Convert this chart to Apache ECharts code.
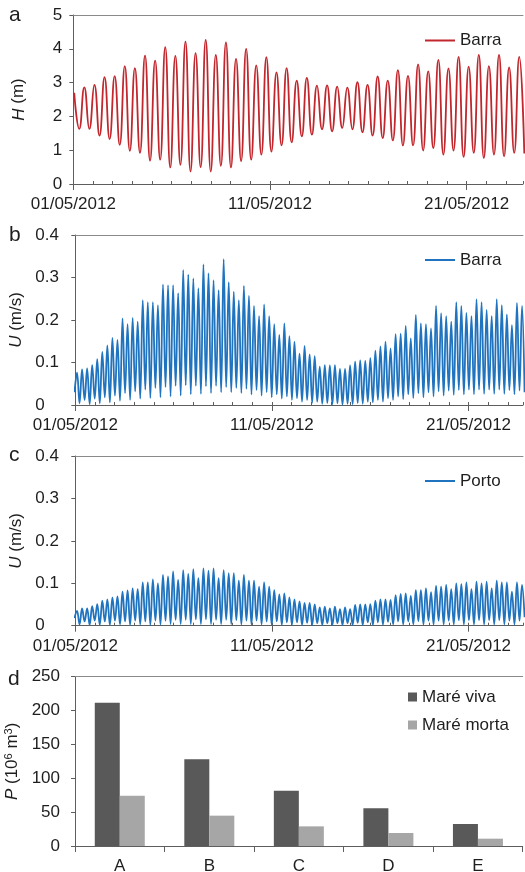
<!DOCTYPE html>
<html><head><meta charset="utf-8">
<script src="https://cdn.jsdelivr.net/npm/echarts@6/dist/echarts.min.js"></script>
<style>html,body{margin:0;padding:0;background:#fff}#c{width:525px;height:872px}</style>
</head><body><div id="c"></div>
<script>
// ---------- data ----------
const dateLabels = ['01/05/2012', '11/05/2012', '21/05/2012'];

// Panel a: water level H (m) at Barra - successive high and low waters
const hHigh = [2.7, 2.86, 2.93, 3.16, 3.19, 3.49, 3.43, 3.8, 3.65, 4.05,
  3.79, 4.21, 3.87, 4.26, 3.82, 4.19, 3.7, 4.0, 3.51, 3.75,
  3.30, 3.43, 3.06, 3.14, 2.91, 2.92, 2.88, 2.85, 3.01, 2.93,
  3.18, 3.06, 3.37, 3.2, 3.54, 3.33, 3.67, 3.42, 3.76, 3.47,
  3.82, 3.49, 3.82, 3.45, 3.76];
const hLow = [1.63, 1.63, 1.43, 1.33, 1.16, 0.98, 0.92, 0.69, 0.72, 0.49,
  0.57, 0.37, 0.5, 0.37, 0.54, 0.49, 0.68, 0.72, 0.87, 0.96,
  1.14, 1.23, 1.41, 1.46, 1.62, 1.56, 1.66, 1.62, 1.53, 1.43,
  1.36, 1.29, 1.14, 1.14, 0.99, 1.06, 0.87, 0.99, 0.80, 0.92,
  0.77, 0.87, 0.82, 0.92, 0.9];

// Panel b: current speed U (m/s) at Barra - maxima and minima
const uBarraPeak = [0.076, 0.084, 0.086, 0.094, 0.108, 0.125, 0.14, 0.158, 0.153, 0.204,
  0.19, 0.205, 0.196, 0.247, 0.242, 0.242, 0.235, 0.284, 0.282, 0.282,
  0.263, 0.318, 0.307, 0.298, 0.275, 0.331, 0.31, 0.294, 0.27,
  0.343, 0.289, 0.267, 0.247, 0.28, 0.257, 0.233, 0.209, 0.237, 0.209,
  0.19, 0.165, 0.192, 0.162, 0.149, 0.121, 0.139, 0.119, 0.115, 0.09,
  0.094, 0.093, 0.094, 0.085, 0.085, 0.093, 0.102, 0.105, 0.104, 0.11,
  0.128, 0.138, 0.149, 0.133, 0.167, 0.168, 0.186, 0.157, 0.212, 0.192,
  0.19, 0.18, 0.233, 0.216, 0.209, 0.196, 0.242, 0.233, 0.217, 0.209,
  0.249, 0.242, 0.224, 0.209, 0.249, 0.235, 0.213, 0.188, 0.24, 0.233];
const uBarraLow = [0.03, 0.004, 0.012, 0.002, 0.015, 0.004, 0.018, 0.006, 0.022, 0.01,
  0.028, 0.012, 0.032, 0.015, 0.036, 0.016, 0.04, 0.018, 0.042, 0.02,
  0.045, 0.022, 0.046, 0.025, 0.045, 0.026, 0.044, 0.028, 0.045, 0.03,
  0.042, 0.03, 0.04, 0.028, 0.038, 0.025, 0.035, 0.022, 0.03, 0.018,
  0.025, 0.015, 0.02, 0.012, 0.016, 0.008, 0.012, 0.005, 0.008, 0.003,
  0.005, 0.002, 0.004, 0.001, 0.003, 0.002, 0.005, 0.003, 0.008, 0.006,
  0.012, 0.008, 0.016, 0.012, 0.02, 0.014, 0.025, 0.016, 0.028, 0.018,
  0.03, 0.02, 0.032, 0.022, 0.034, 0.024, 0.035, 0.025, 0.036, 0.025,
  0.036, 0.026, 0.036, 0.026, 0.036, 0.026, 0.035, 0.025, 0.034, 0.03];

// Panel c: current speed U (m/s) at Porto - maxima and minima
const uPortoPeak = [0.035, 0.041, 0.041, 0.046, 0.051, 0.059, 0.062, 0.067, 0.069, 0.08,
  0.083, 0.088, 0.086, 0.102, 0.102, 0.109, 0.1, 0.12, 0.116, 0.128,
  0.108, 0.131, 0.122, 0.133, 0.112, 0.135, 0.13, 0.135, 0.112, 0.131,
  0.124, 0.124, 0.106, 0.12, 0.106, 0.106, 0.092, 0.102, 0.092, 0.084,
  0.074, 0.076, 0.067, 0.062,
  0.057, 0.054, 0.054, 0.05, 0.043, 0.045, 0.041, 0.045, 0.039, 0.043,
  0.039, 0.049, 0.05, 0.05, 0.051, 0.059, 0.062, 0.062, 0.061, 0.072,
  0.075, 0.076, 0.07, 0.084, 0.084, 0.088, 0.079, 0.094, 0.092, 0.096,
  0.086, 0.1, 0.098, 0.102, 0.086, 0.104, 0.1, 0.104, 0.088, 0.106,
  0.102, 0.102, 0.08, 0.102, 0.096];
const uPortoLow = [0.018, 0.003, 0.01, 0.002, 0.012, 0.002, 0.01, 0.002, 0.012, 0.003,
  0.01, 0.002, 0.012, 0.003, 0.01, 0.002, 0.012, 0.003, 0.012, 0.004,
  0.014, 0.004, 0.014, 0.004, 0.015, 0.004, 0.015, 0.004, 0.014, 0.004,
  0.014, 0.004, 0.013, 0.003, 0.012, 0.003, 0.012, 0.003, 0.01, 0.002,
  0.01, 0.002, 0.008, 0.002, 0.008, 0.002, 0.007, 0.002, 0.006, 0.002,
  0.006, 0.002, 0.006, 0.002, 0.006, 0.002, 0.007, 0.002, 0.008, 0.002,
  0.008, 0.003, 0.009, 0.003, 0.01, 0.003, 0.01, 0.003, 0.011, 0.003,
  0.012, 0.003, 0.012, 0.003, 0.012, 0.003, 0.013, 0.003, 0.013, 0.003,
  0.013, 0.003, 0.013, 0.003, 0.013, 0.003, 0.012, 0.003, 0.012, 0.02];

// Panel d: tidal prism P (10^6 m3)
const prismCategories = ['A', 'B', 'C', 'D', 'E'];
const mareViva = [211.6, 128, 81.7, 55.6, 32.5];
const mareMorta = [74.3, 44.8, 29, 19.2, 10.8];

// timing of the extrema (days after 01/05/2012 00:00)
const hStartDay = 0.046, uStartDay = 0.087, halfCycleDays = 0.2572;

// ---------- build series ----------
function buildH() {
  const out = [];
  for (let i = 0; i < hHigh.length; i++) {
    out.push([hStartDay + 2 * i * halfCycleDays, hHigh[i]]);
    if (i < hLow.length) out.push([hStartDay + (2 * i + 1) * halfCycleDays, hLow[i]]);
  }
  return out;
}
function buildU(peaks, lows) {
  const out = [];
  for (let k = 0; k < lows.length; k++) {
    out.push([uStartDay + (k - 0.5) * halfCycleDays, lows[k]]);
    if (k < peaks.length) out.push([uStartDay + k * halfCycleDays, peaks[k]]);
  }
  return out;
}

const FONT = 'Liberation Sans, Arial, Helvetica, sans-serif';
const TXT = '#1e1e1e';
const AX = '#5e5e5e';
const TOPC = '#8a8a8a';
const FS = 17;

function dateFmt(v) {
  const i = Math.round(v / 10);
  if (Math.abs(v - i * 10) < 1e-6 && i >= 0 && i < dateLabels.length) return dateLabels[i];
  return '';
}

const grids = [
  { left: 73.3, top: 15, width: 449.7, height: 169 },
  { left: 75.3, top: 235, width: 447.7, height: 170 },
  { left: 75.3, top: 456, width: 447.7, height: 169.7 },
  { left: 75, top: 676.7, width: 447.7, height: 169.3 }
].map(g => Object.assign({ outerBoundsMode: 'none', containLabel: false }, g));

const xMax = [22.87, 22.77, 22.77];
const xAxes = [];
const xMain = [];
for (let g = 0; g < 3; g++) {
  xMain.push(xAxes.length);
  xAxes.push({
    type: 'value', gridIndex: g, position: 'bottom', min: 0, max: xMax[g], interval: 10,
    axisLine: { show: true, onZero: false, lineStyle: { color: AX, width: 1 } },
    axisTick: { show: true, inside: false, length: 6, lineStyle: { color: AX } },
    axisLabel: { show: true, formatter: dateFmt, margin: 12, color: TXT, fontSize: FS, fontFamily: FONT, showMaxLabel: false },
    splitLine: { show: false }
  });
  xAxes.push({
    type: 'value', gridIndex: g, position: 'bottom', min: 0, max: xMax[g], interval: 1,
    axisLine: { show: false, onZero: false },
    axisTick: { show: true, inside: true, length: 3, lineStyle: { color: AX } },
    axisLabel: { show: false }, splitLine: { show: false }
  });
  xAxes.push({
    type: 'value', gridIndex: g, position: 'top', min: 0, max: xMax[g],
    axisLine: { show: true, onZero: false, lineStyle: { color: TOPC, width: 1 } },
    axisTick: { show: false }, axisLabel: { show: false }, splitLine: { show: false }
  });
}
const xCat = xAxes.length;
xAxes.push({
  type: 'category', gridIndex: 3, position: 'bottom', data: prismCategories,
  axisLine: { show: true, onZero: false, lineStyle: { color: AX } },
  axisTick: { show: true, length: 6, lineStyle: { color: AX } },
  axisLabel: { margin: 12, color: TXT, fontSize: FS, fontFamily: FONT },
  splitLine: { show: false }
});
xAxes.push({
  type: 'category', gridIndex: 3, position: 'top', data: prismCategories,
  axisLine: { show: true, onZero: false, lineStyle: { color: TOPC } },
  axisTick: { show: false }, axisLabel: { show: false }, splitLine: { show: false }
});

function yAx(g, max, interval, nameRich, labelOpts) {
  return Object.assign({
    type: 'value', gridIndex: g, min: 0, max: max, interval: interval,
    axisLine: { show: true, lineStyle: { color: AX, width: 1 } },
    axisTick: { show: true, length: 4, lineStyle: { color: AX } },
    splitLine: { show: false },
    name: nameRich, nameLocation: 'middle', nameGap: 46, nameRotate: 90,
    nameTextStyle: {
      color: TXT, fontSize: FS, fontFamily: FONT,
      rich: {
        i: { fontStyle: 'italic', fontSize: FS, fontFamily: FONT, color: TXT },
        sup: { fontSize: 11, fontFamily: FONT, color: TXT, verticalAlign: 'top', lineHeight: 12 }
      }
    }
  }, labelOpts);
}
const yAxes = [
  yAx(0, 5, 1, '{i|H} (m)', { axisLabel: { margin: 11, color: TXT, fontSize: FS, fontFamily: FONT } }),
  yAx(1, 0.4, 0.1, '{i|U} (m/s)', { axisLabel: { margin: 40, align: 'left', color: TXT, fontSize: FS, fontFamily: FONT, formatter: v => v === 0 ? '0' : v.toFixed(1) } }),
  yAx(2, 0.4, 0.1, '{i|U} (m/s)', { axisLabel: { margin: 40, align: 'left', color: TXT, fontSize: FS, fontFamily: FONT, formatter: v => v === 0 ? '0' : v.toFixed(1) } }),
  yAx(3, 250, 50, '{i|P} (10{sup|6} m{sup|3})', { axisLabel: { margin: 15, color: TXT, fontSize: FS, fontFamily: FONT } })
];

const RED = '#c1272d', BLUE = '#1f73bf';
const series = [
  { name: 'Barra', type: 'line', xAxisIndex: xMain[0], yAxisIndex: 0, data: buildH(), smooth: 0.5, symbol: 'none', showSymbol: false, lineStyle: { color: RED, width: 1.8 }, itemStyle: { color: RED } },
  { name: 'Barra ', type: 'line', xAxisIndex: xMain[1], yAxisIndex: 1, data: buildU(uBarraPeak, uBarraLow), smooth: 0.4, symbol: 'none', showSymbol: false, lineStyle: { color: BLUE, width: 1.8 }, itemStyle: { color: BLUE } },
  { name: 'Porto', type: 'line', xAxisIndex: xMain[2], yAxisIndex: 2, data: buildU(uPortoPeak, uPortoLow), smooth: 0.4, symbol: 'none', showSymbol: false, lineStyle: { color: BLUE, width: 1.8 }, itemStyle: { color: BLUE } },
  { name: 'Maré viva', type: 'bar', xAxisIndex: xCat, yAxisIndex: 3, data: mareViva, barWidth: 25, barGap: '0%', itemStyle: { color: '#595959' } },
  { name: 'Maré morta', type: 'bar', xAxisIndex: xCat, yAxisIndex: 3, data: mareMorta, barWidth: 25, barGap: '0%', itemStyle: { color: '#a6a6a6' } }
];

const legTxt = { color: TXT, fontSize: FS, fontFamily: FONT };
function lineLegend(name, top) {
  return { data: [{ name: name, icon: 'rect' }], left: 425, top: top, padding: 0, itemWidth: 30, itemHeight: 2,
    textStyle: legTxt, selectedMode: false };
}
const legends = [
  lineLegend('Barra', 32),
  lineLegend('Barra ', 251.5),
  lineLegend('Porto', 472.5),
  { data: [{ name: 'Maré viva', icon: 'rect' }, { name: 'Maré morta', icon: 'rect' }], orient: 'vertical', left: 408, top: 688, padding: 0,
    itemWidth: 9, itemHeight: 9, itemGap: 10, textStyle: Object.assign({ lineHeight: 18 }, legTxt), selectedMode: false }
];

function letter(t, x, y) {
  return { type: 'text', left: x, top: y, style: { text: t, fontSize: 21, fontFamily: FONT, fill: TXT } };
}

const chart = echarts.init(document.getElementById('c'), null, { renderer: 'canvas' });
chart.setOption({
  animation: false,
  backgroundColor: '#fff',
  grid: grids,
  xAxis: xAxes,
  yAxis: yAxes,
  legend: legends,
  series: series,
  graphic: [letter('a', 9, 5), letter('b', 9, 225), letter('c', 9, 445), letter('d', 8, 669)]
});
</script></body></html>
